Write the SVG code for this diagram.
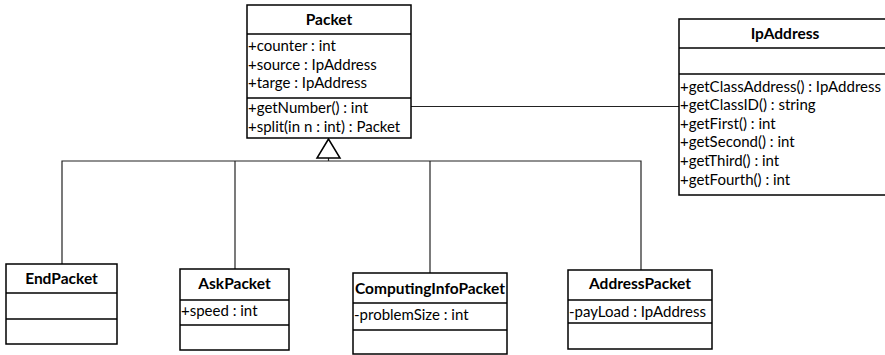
<svg xmlns="http://www.w3.org/2000/svg" width="885" height="355" viewBox="0 0 885 355">
<style>
.box{fill:#fff;stroke:#000;stroke-width:1.5}
.div{stroke:#000;stroke-width:1.5}
.con{fill:none;stroke:#222;stroke-width:1.2}
.tri{fill:#fff;stroke:#000;stroke-width:1.5}
text{font-family:Lato,"Liberation Sans",sans-serif;font-size:15px;fill:#000}
.h{font-weight:bold;text-anchor:middle;font-size:15.5px}
</style>
<rect width="885" height="355" fill="#fff"/>
<g id="connectors">
<polyline class="con" points="62,264 62,161 641,161 641,270"/>
<line class="con" x1="235" y1="161" x2="235" y2="269"/>
<line class="con" x1="430" y1="161" x2="430" y2="273"/>
<line class="con" x1="328.5" y1="158" x2="328.5" y2="161"/>
<polygon class="tri" points="328.5,139 317,158 340,158"/>
<line class="con" x1="411" y1="106.5" x2="679" y2="106.5"/>
</g>
<g id="Packet">
<rect class="box" x="247" y="5" width="164" height="133"/>
<line class="div" x1="247" y1="34" x2="411" y2="34"/>
<line class="div" x1="247" y1="98" x2="411" y2="98"/>
<text class="h" x="329" y="25">Packet</text>
<text x="248" y="51">+counter : int</text>
<text x="248" y="70">+source : IpAddress</text>
<text x="248" y="88">+targe : IpAddress</text>
<text x="248" y="113">+getNumber() : int</text>
<text x="248" y="132">+split(in n : int) : Packet</text>
</g>
<g id="IpAddress">
<rect class="box" x="679" y="19" width="212" height="176"/>
<line class="div" x1="679" y1="48" x2="891" y2="48"/>
<line class="div" x1="679" y1="74" x2="891" y2="74"/>
<text class="h" x="785" y="39">IpAddress</text>
<text x="680" y="92">+getClassAddress() : IpAddress</text>
<text x="680" y="110">+getClassID() : string</text>
<text x="680" y="129">+getFirst() : int</text>
<text x="680" y="147">+getSecond() : int</text>
<text x="680" y="166">+getThird() : int</text>
<text x="680" y="185">+getFourth() : int</text>
</g>
<g id="EndPacket">
<rect class="box" x="6" y="264" width="111" height="80"/>
<line class="div" x1="6" y1="293" x2="117" y2="293"/>
<line class="div" x1="6" y1="319" x2="117" y2="319"/>
<text class="h" x="61.5" y="284">EndPacket</text>
</g>
<g id="AskPacket">
<rect class="box" x="180" y="269" width="109" height="81"/>
<line class="div" x1="180" y1="300" x2="289" y2="300"/>
<line class="div" x1="180" y1="325" x2="289" y2="325"/>
<text class="h" x="234.5" y="289">AskPacket</text>
<text x="181" y="316">+speed : int</text>
</g>
<g id="ComputingInfoPacket">
<rect class="box" x="353" y="273" width="154" height="81"/>
<line class="div" x1="353" y1="303" x2="507" y2="303"/>
<line class="div" x1="353" y1="330" x2="507" y2="330"/>
<text class="h" x="430" y="294">ComputingInfoPacket</text>
<text x="354" y="320">-problemSize : int</text>
</g>
<g id="AddressPacket">
<rect class="box" x="568" y="270" width="144" height="79"/>
<line class="div" x1="568" y1="300" x2="712" y2="300"/>
<line class="div" x1="568" y1="323" x2="712" y2="323"/>
<text class="h" x="640" y="289">AddressPacket</text>
<text x="569" y="317">-payLoad : IpAddress</text>
</g>
</svg>
